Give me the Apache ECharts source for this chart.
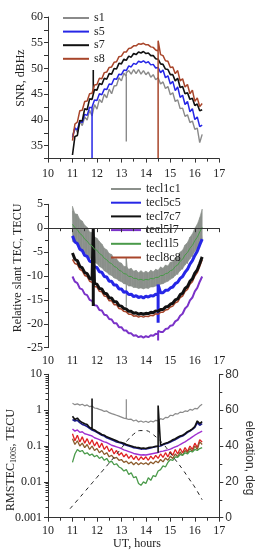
<!DOCTYPE html>
<html><head><meta charset="utf-8">
<script src="https://cdn.jsdelivr.net/npm/echarts@6/dist/echarts.min.js"></script>
<style>html,body{margin:0;padding:0;background:#fff}#c{width:257px;height:550px}</style>
</head><body><div id="c"></div>
<script>
// ---- data ----
const ut = [11.0,11.1,11.2,11.3,11.4,11.5,11.6,11.7,11.8,11.9,12.0,12.1,12.2,12.3,12.4,12.5,12.6,12.7,12.8,12.9,13.0,13.1,13.2,13.3,13.4,13.5,13.6,13.7,13.8,13.9,14.0,14.1,14.2,14.3,14.4,14.5,14.6,14.7,14.8,14.9,15.0,15.1,15.2,15.3,15.4,15.5,15.6,15.7,15.8,15.9,16.0,16.1,16.2,16.3];
const xTicks = [10,11,12,13,14,15,16,17];

// Panel 1: SNR, dBHz
const s1 = [37.0,38.5,37.6,39.7,38.9,40.6,40.0,41.9,40.8,43.0,42.1,44.0,43.4,45.0,44.3,46.0,45.1,46.6,46.7,48.2,47.6,49.1,48.4,49.6,48.9,49.8,49.0,49.8,48.9,49.6,48.8,49.3,48.3,48.8,47.8,48.2,47.0,47.4,46.1,46.5,44.9,45.3,43.6,43.9,42.2,42.3,40.7,41.0,39.5,39.8,38.2,38.4,35.6,37.2];
const s5 = [36.6,38.4,38.1,39.8,39.5,41.1,40.9,42.5,42.3,43.9,43.8,45.1,44.9,46.0,45.9,47.0,46.9,48.0,47.9,48.9,48.8,49.7,49.6,50.5,50.3,51.0,50.8,51.4,51.2,51.5,51.1,51.3,50.7,50.8,50.1,50.2,49.2,49.7,48.2,48.6,47.0,47.5,45.7,46.4,44.4,44.8,43.0,43.6,41.6,42.2,40.1,40.6,38.7,39.0];
const s7 = [33.2,36.8,37.0,39.9,39.8,42.2,42.0,44.1,44.0,45.9,45.8,47.1,46.9,48.1,47.9,49.0,48.9,50.0,49.9,51.0,50.9,51.8,51.6,52.4,52.2,52.9,52.7,53.2,53.0,53.3,52.9,53.0,52.5,52.5,51.9,51.8,50.9,50.8,49.9,49.8,48.8,48.8,47.6,48.1,46.3,46.5,45.1,45.3,44.0,44.2,42.8,43.1,41.8,42.0];
const s8 = [36.0,39.2,39.6,41.8,41.9,43.6,43.7,45.1,45.2,46.8,46.9,48.1,48.0,49.2,49.3,50.2,50.3,51.2,51.3,52.3,52.4,53.2,53.2,53.9,54.0,54.4,54.4,54.8,54.7,54.9,54.6,54.6,54.2,54.1,53.6,53.4,52.7,52.5,51.5,51.4,50.2,50.3,49.0,49.6,47.6,48.0,46.4,46.9,45.1,45.8,43.6,44.3,42.6,43.2];
// spikes: [UT, from, to]
const s1Spikes = [[13.2, 49.2, 35.8]];
const s5Spikes = [[11.8, 42.5, 32.5]];
const s7Spikes = [[11.85, 45.0, 49.7]];
const s8Spikes = [[14.5, 55.4, 32.5]];

// Panel 2: relative slant TEC, TECU
const tecl1c1 = [3.6,-1.8,2.4,-3.4,1.0,-4.2,-0.2,-5.5,-1.5,-6.2,-2.6,-7.0,-3.6,-8.0,-4.9,-8.8,-5.8,-9.3,-6.6,-9.9,-7.4,-10.8,-8.2,-11.4,-8.8,-11.9,-9.1,-12.2,-9.3,-12.4,-9.2,-12.3,-9.1,-12.1,-8.9,-11.8,-8.5,-11.4,-8.0,-11.0,-7.3,-10.4,-6.5,-9.7,-5.4,-8.6,-3.9,-7.4,-2.4,-6.0,-0.6,-4.5,1.6,-2.5];
// noise envelope of tecl1c1 (upper / lower edge of the grey band)
const tecl1c1Hi = [4.6,3.0,2.9,1.8,1.5,0.6,0.2,-0.8,-0.9,-1.8,-2.1,-2.8,-3.3,-4.2,-4.5,-5.3,-5.5,-6.4,-6.4,-7.1,-7.3,-8.0,-8.0,-8.6,-8.4,-9.0,-8.8,-9.3,-8.9,-9.3,-9.0,-9.3,-8.8,-9.1,-8.6,-8.8,-8.1,-8.4,-7.7,-7.9,-7.1,-7.0,-6.2,-6.0,-5.0,-4.6,-3.5,-3.0,-1.9,-1.2,0.0,0.8,2.2,4.0];
const tecl1c1Lo = [-2.8,-2.9,-3.6,-4.0,-4.6,-5.1,-5.7,-6.2,-6.7,-7.1,-7.4,-8.0,-8.3,-8.9,-9.2,-9.7,-9.9,-10.4,-10.6,-11.0,-11.2,-11.6,-11.7,-12.1,-12.1,-12.4,-12.4,-12.6,-12.5,-12.7,-12.5,-12.6,-12.3,-12.3,-12.1,-12.0,-11.7,-11.6,-11.3,-11.1,-10.7,-10.4,-9.9,-9.5,-8.9,-8.4,-7.7,-7.1,-6.4,-5.7,-4.9,-4.1,-3.3,-2.4];
const tecl5c5 = [-1.6,-2.9,-3.2,-4.4,-4.7,-5.7,-5.9,-6.9,-7.1,-8.1,-8.2,-9.1,-9.2,-10.1,-10.2,-11.1,-11.1,-11.9,-11.9,-12.7,-12.7,-13.4,-13.3,-13.9,-13.8,-14.3,-14.1,-14.5,-14.3,-14.6,-14.2,-14.4,-14.1,-14.2,-13.8,-13.9,-13.5,-13.5,-13.0,-13.0,-12.5,-12.3,-11.6,-11.3,-10.5,-10.1,-9.2,-8.6,-7.5,-6.8,-5.7,-4.8,-3.5,-2.3];
const tecl7c7 = [-5.2,-6.5,-6.8,-8.0,-8.3,-9.3,-9.5,-10.5,-10.7,-11.6,-11.7,-12.6,-12.7,-13.6,-13.7,-14.6,-14.6,-15.4,-15.4,-16.2,-16.3,-16.8,-16.9,-17.4,-17.4,-17.8,-17.7,-18.0,-17.8,-18.0,-17.8,-17.9,-17.6,-17.7,-17.3,-17.4,-17.0,-17.0,-16.5,-16.4,-15.9,-15.7,-15.0,-14.8,-13.9,-13.6,-12.6,-12.2,-11.1,-10.6,-9.4,-8.7,-7.4,-6.0];
const tecl5l7 = [-10.1,-11.2,-11.5,-12.6,-12.8,-13.8,-14.0,-15.0,-15.2,-16.1,-16.2,-17.1,-17.2,-18.1,-18.2,-19.0,-19.1,-19.9,-19.9,-20.7,-20.7,-21.4,-21.4,-22.0,-22.0,-22.5,-22.4,-22.8,-22.6,-22.9,-22.6,-22.8,-22.4,-22.5,-22.1,-22.2,-21.7,-21.7,-21.1,-21.0,-20.4,-20.3,-19.5,-19.2,-18.3,-17.9,-16.8,-16.3,-15.1,-14.5,-13.2,-12.5,-11.2,-10.1];
const tecl1l5 = [0.8,0.1,-0.3,-1.1,-1.5,-2.3,-2.7,-3.4,-3.7,-4.4,-4.6,-5.3,-5.6,-6.3,-6.6,-7.2,-7.4,-8.0,-8.2,-8.8,-9.0,-9.5,-9.6,-10.1,-10.1,-10.5,-10.5,-10.8,-10.7,-10.9,-10.7,-10.8,-10.5,-10.6,-10.3,-10.3,-9.9,-9.9,-9.5,-9.4,-8.9,-8.7,-8.0,-7.7,-6.9,-6.5,-5.6,-5.1,-4.2,-3.6,-2.6,-1.9,-0.8,0.2];
const tecl8c8 = [-6.5,-7.4,-7.6,-8.6,-8.9,-9.9,-10.1,-11.1,-11.3,-12.2,-12.3,-13.2,-13.3,-14.2,-14.3,-15.2,-15.2,-16.0,-16.0,-16.8,-16.9,-17.4,-17.5,-18.0,-18.0,-18.4,-18.3,-18.6,-18.4,-18.6,-18.4,-18.5,-18.2,-18.3,-17.9,-18.0,-17.6,-17.6,-17.1,-17.0,-16.5,-16.3,-15.6,-15.4,-14.5,-14.2,-13.2,-12.8,-11.7,-11.2,-10.0,-9.3,-8.0,-6.6];
const tecl1c1Spikes = [[13.2, -6.3, -16.4]];
const tecl5c5Spikes = [[14.5, -11.8, -19.8]];
const tecl7c7Spikes = [[11.85, 0.0, -16.3]];
const tecl5l7Spikes = [[14.5, -21.5, -23.5]];

// Panel 3: RMSTEC100s, TECU and elevation
const rmsGray = [1.55,1.42,1.5,1.38,1.46,1.32,1.4,1.25,1.3,1.15,1.12,1.05,1.0,0.92,0.95,0.85,0.8,0.76,0.72,0.68,0.64,0.6,0.58,0.55,0.56,0.5,0.53,0.47,0.5,0.46,0.49,0.45,0.5,0.47,0.52,0.5,0.58,0.55,0.63,0.62,0.72,0.7,0.8,0.78,0.88,0.86,0.95,0.92,1.05,1.0,1.12,1.08,1.3,1.45];
const rmsBlack = [0.68,0.55,0.6,0.5,0.45,0.42,0.4,0.33,0.3,0.28,0.25,0.23,0.21,0.2,0.18,0.17,0.16,0.15,0.14,0.13,0.125,0.12,0.11,0.105,0.1,0.095,0.092,0.09,0.086,0.088,0.085,0.09,0.092,0.094,0.098,0.1,0.105,0.112,0.12,0.125,0.135,0.15,0.16,0.175,0.19,0.2,0.22,0.25,0.27,0.3,0.35,0.5,0.42,0.48];
const rmsBlue = [0.55,0.5,0.52,0.45,0.4,0.38,0.35,0.31,0.28,0.26,0.24,0.22,0.2,0.19,0.17,0.16,0.15,0.14,0.13,0.125,0.12,0.11,0.105,0.1,0.095,0.09,0.088,0.085,0.082,0.084,0.083,0.086,0.088,0.092,0.095,0.098,0.1,0.108,0.115,0.12,0.13,0.14,0.15,0.165,0.18,0.19,0.21,0.24,0.26,0.29,0.33,0.45,0.38,0.42];
const rmsPurple = [0.3,0.26,0.28,0.24,0.25,0.22,0.21,0.2,0.19,0.17,0.16,0.15,0.14,0.13,0.125,0.115,0.105,0.1,0.095,0.09,0.085,0.078,0.074,0.07,0.066,0.062,0.06,0.058,0.056,0.057,0.056,0.058,0.06,0.062,0.064,0.066,0.07,0.072,0.075,0.078,0.082,0.088,0.095,0.1,0.11,0.12,0.13,0.145,0.16,0.18,0.2,0.22,0.24,0.26];
const rmsRed = [0.22,0.14,0.2,0.13,0.18,0.12,0.16,0.11,0.15,0.1,0.13,0.09,0.12,0.08,0.1,0.07,0.085,0.06,0.075,0.055,0.065,0.05,0.06,0.045,0.055,0.042,0.052,0.04,0.05,0.042,0.05,0.04,0.052,0.043,0.055,0.045,0.06,0.048,0.065,0.05,0.07,0.055,0.08,0.06,0.085,0.065,0.09,0.07,0.1,0.08,0.12,0.09,0.15,0.13];
const rmsBrown = [0.16,0.11,0.14,0.1,0.12,0.09,0.11,0.08,0.1,0.075,0.085,0.065,0.075,0.058,0.065,0.05,0.055,0.045,0.048,0.04,0.042,0.035,0.038,0.032,0.036,0.03,0.035,0.03,0.034,0.031,0.034,0.03,0.036,0.032,0.038,0.034,0.042,0.036,0.046,0.04,0.052,0.045,0.06,0.05,0.068,0.055,0.075,0.065,0.085,0.07,0.1,0.08,0.13,0.11];
const rmsGreen = [0.035,0.06,0.08,0.07,0.075,0.06,0.065,0.055,0.06,0.05,0.055,0.045,0.05,0.04,0.045,0.035,0.038,0.03,0.032,0.026,0.024,0.02,0.022,0.016,0.018,0.013,0.014,0.009,0.008,0.01,0.009,0.013,0.011,0.015,0.014,0.02,0.022,0.028,0.026,0.035,0.042,0.04,0.05,0.048,0.058,0.055,0.065,0.06,0.072,0.068,0.08,0.075,0.085,0.09];
const rmsGraySpikes = [[13.2, 0.58, 2.0]];
const rmsBlackSpikes = [[11.8, 0.3, 2.1], [14.5, 1.35, 0.065]];
const elevUT = [10.9,11.25,11.5,11.75,12.0,12.25,12.5,12.75,13.0,13.25,13.5,13.75,14.0,14.25,14.5,14.75,15.0,15.25,15.5,15.75,16.0,16.3];
const elevDeg = [5,10.5,14.5,18.5,22.5,26.5,30.5,34.5,38.8,43.2,46.6,48.6,48.6,46.8,44.0,40.5,36,31.5,27,22,17,10];

const snrTicks = [35,40,45,50,55,60];
const logMajor = [0.001,0.01,0.1,1,10];
const logMinor = [0.002,0.003,0.004,0.005,0.006,0.007,0.008,0.009,0.02,0.03,0.04,0.05,0.06,0.07,0.08,0.09,0.2,0.3,0.4,0.5,0.6,0.7,0.8,0.9,2,3,4,5,6,7,8,9];
const logLabels = {0.001:'0.001',0.01:'0.01',0.1:'0.1',1:'1',10:'10'};

// ---- build ----
function pts(vals, spikes) {
  const out = [];
  for (let i = 0; i < ut.length; i++) {
    out.push([ut[i], vals[i]]);
    (spikes || []).forEach(s => {
      const next = i + 1 < ut.length ? ut[i + 1] : Infinity;
      if (s[0] >= ut[i] - 1e-9 && s[0] < next - 1e-9) {
        out.push([s[0], s[1]], [s[0], s[2]], [s[0], s[1]]);
      }
    });
  }
  return out;
}

const serif = 'Liberation Serif';
const sans = 'Liberation Sans';
const axisCol = '#333';

function xAx(grid, margin) {
  return {
    type: 'value', gridIndex: grid, min: 10, max: 17, interval: 1, z: 10,
    axisLine: {show: true, lineStyle: {color: axisCol, width: 1}},
    axisTick: {show: true, length: 4, lineStyle: {color: axisCol}},
    minorTick: {show: true, splitNumber: 2, length: 3, lineStyle: {color: axisCol}},
    splitLine: {show: false},
    axisLabel: {fontFamily: serif, fontSize: 12, color: '#222', margin: margin,
      customValues: xTicks}
  };
}

function line(name, data, color, width, xi, yi, z, extra) {
  return Object.assign({
    name: name, type: 'line', data: data, xAxisIndex: xi, yAxisIndex: yi,
    showSymbol: false, symbol: 'none', animation: false, z: z || 2,
    lineStyle: {color: color, width: width}, itemStyle: {color: color},
    emphasis: {disabled: true}
  }, extra || {});
}

const cGray = '#8a8a8a', cBlue = '#2626e6', cBlack = '#111111', cBrown = '#a8452a';
const cPurple = '#7a32c8', cGreen = '#4a9a4a', cRed = '#e02222', cBrown3 = '#8b5a2b', cNavy = '#1c1c8a', cMag = '#a030d0';
const cBand = '#8b908b';

const legendCommon = {
  orient: 'vertical', selectedMode: false, itemHeight: 12,
  itemStyle: {opacity: 0, borderWidth: 0},
  textStyle: {fontFamily: serif, fontSize: 12, color: '#222', lineHeight: 12}
};

// grey band between the lower and upper noise envelope, drawn segment by segment
const bandSeries = {
  name: 'tecl1c1 band', type: 'custom', xAxisIndex: 1, yAxisIndex: 1, z: 1, animation: false,
  data: ut.map((t, i) => [t, tecl1c1Lo[i], tecl1c1Hi[i]]),
  encode: {x: 0, y: [1, 2]},
  silent: true,
  renderItem: function (params, api) {
    const i = params.dataIndexInside;
    if (i >= params.dataInsideLength - 1) return;
    const a = api.coord([api.value(0, i), api.value(1, i)]);
    const b = api.coord([api.value(0, i), api.value(2, i)]);
    const c = api.coord([api.value(0, i + 1), api.value(2, i + 1)]);
    const d = api.coord([api.value(0, i + 1), api.value(1, i + 1)]);
    return {type: 'polygon', shape: {points: [a, b, c, d]},
      style: {fill: cBand, stroke: cBand, lineWidth: 0.6}};
  }
};

const option = {
  backgroundColor: '#fff',
  animation: false,
  grid: [
    {left: 48, top: 17, width: 171.3, height: 141.6},
    {left: 48, top: 204.3, width: 171.3, height: 143.4},
    {left: 48, top: 374.3, width: 171.3, height: 143.4}
  ],
  xAxis: [xAx(0, 9), xAx(1, 7), xAx(2, 7)],
  yAxis: [
    {type: 'value', gridIndex: 0, min: 32.5, max: 60, interval: 2.5, z: 10,
     axisLine: {show: true, lineStyle: {color: axisCol}},
     axisTick: {show: true, length: 4, lineStyle: {color: axisCol}},
     splitLine: {show: false},
     axisLabel: {fontFamily: serif, fontSize: 12, color: '#222', margin: 5, customValues: snrTicks}},
    {type: 'value', gridIndex: 1, min: -25, max: 5, interval: 5, z: 10,
     axisLine: {show: true, lineStyle: {color: axisCol}},
     axisTick: {show: true, length: 4, lineStyle: {color: axisCol}},
     minorTick: {show: true, splitNumber: 2, length: 3, lineStyle: {color: axisCol}},
     splitLine: {show: false},
     axisLabel: {fontFamily: serif, fontSize: 12, color: '#222', margin: 5}},
    {type: 'log', gridIndex: 2, min: 0.001, max: 10, logBase: 10, z: 10,
     axisLine: {show: true, lineStyle: {color: axisCol}},
     axisTick: {show: true, length: 4, lineStyle: {color: axisCol}, customValues: logMajor},
     splitLine: {show: false},
     axisLabel: {fontFamily: serif, fontSize: 12, color: '#222', margin: 6, customValues: logMajor,
       formatter: v => logLabels[v] !== undefined ? logLabels[v] : String(v)}},
    {type: 'log', gridIndex: 2, min: 0.001, max: 10, logBase: 10, position: 'left', offset: 0, z: 10,
     axisLine: {show: false},
     axisTick: {show: true, length: 2.5, lineStyle: {color: axisCol}, customValues: logMinor},
     splitLine: {show: false},
     axisLabel: {show: false}},
    {type: 'value', gridIndex: 2, min: 0, max: 80, interval: 20, position: 'right', z: 10,
     axisLine: {show: true, lineStyle: {color: axisCol}},
     axisTick: {show: true, length: 4, lineStyle: {color: axisCol}},
     minorTick: {show: true, splitNumber: 2, length: 3, lineStyle: {color: axisCol}},
     splitLine: {show: false},
     axisLabel: {fontFamily: sans, fontSize: 12, color: '#333', margin: 6}}
  ],
  legend: [
    Object.assign({}, legendCommon, {data: ['s1', 's5', 's7', 's8'], left: 57, top: 7,
     itemWidth: 26, itemGap: 1.6}),
    Object.assign({}, legendCommon, {data: ['tecl1c1', 'tecl5c5', 'tecl7c7', 'tecl5l7', 'tecl1l5', 'tecl8c8'],
     left: 105, top: 178, itemWidth: 30, itemGap: 1.7})
  ],
  series: [
    // panel 1
    line('s1', pts(s1, s1Spikes), cGray, 1.4, 0, 0, 2),
    line('s5', pts(s5, s5Spikes), cBlue, 1.5, 0, 0, 3),
    line('s7', pts(s7, s7Spikes), cBlack, 1.6, 0, 0, 4),
    line('s8', pts(s8, s8Spikes), cBrown, 1.5, 0, 0, 5),
    // panel 2
    bandSeries,
    line('tecl1c1', pts(tecl1c1, tecl1c1Spikes), cBand, 0.8, 1, 1, 2),
    line('tecl5c5', pts(tecl5c5, tecl5c5Spikes), cBlue, 3, 1, 1, 3),
    line('tecl8c8', pts(tecl8c8), cBrown, 1.5, 1, 1, 3),
    line('tecl7c7', pts(tecl7c7, tecl7c7Spikes), cBlack, 3, 1, 1, 4),
    line('tecl5l7', pts(tecl5l7, tecl5l7Spikes), cPurple, 2, 1, 1, 3),
    line('tecl1l5', pts(tecl1l5), cGreen, 1, 1, 1, 5),
    // panel 3
    line('rms gray', pts(rmsGray, rmsGraySpikes), cGray, 1.2, 2, 2, 2),
    line('rms blue', pts(rmsBlue), cNavy, 1.6, 2, 2, 3),
    line('rms black', pts(rmsBlack, rmsBlackSpikes), cBlack, 1.6, 2, 2, 4),
    line('rms purple', pts(rmsPurple), cMag, 1.4, 2, 2, 3),
    line('rms red', pts(rmsRed), cRed, 1.3, 2, 2, 3),
    line('rms brown', pts(rmsBrown), cBrown3, 1.3, 2, 2, 3),
    line('rms green', pts(rmsGreen), cGreen, 1.3, 2, 2, 3),
    line('elevation', elevUT.map((t, i) => [t, elevDeg[i]]), '#222', 1, 2, 4, 6,
      {smooth: 0.4, lineStyle: {color: '#222', width: 1, type: [4, 4]}})
  ],
  graphic: [
    {type: 'text', x: 21, y: 78, rotation: Math.PI / 2,
     style: {text: 'SNR, dBHz', font: '12px "Liberation Serif"', fill: '#222', align: 'center', verticalAlign: 'middle'}},
    {type: 'text', x: 18, y: 268, rotation: Math.PI / 2,
     style: {text: 'Relative slant TEC, TECU', font: '12px "Liberation Serif"', fill: '#222', align: 'center', verticalAlign: 'middle'}},
    {type: 'text', x: 11, y: 460, rotation: Math.PI / 2,
     style: {text: 'RMSTEC{s|100S}, TECU', font: '12px "Liberation Serif"', fill: '#222', align: 'center', verticalAlign: 'middle',
       rich: {s: {fontSize: 8, fontFamily: serif, fill: '#222', padding: [5, 0, 0, 0]}}}},
    {type: 'text', x: 249, y: 458, rotation: -Math.PI / 2,
     style: {text: 'elevation, deg', font: '12px "Liberation Sans"', fill: '#333', align: 'center', verticalAlign: 'middle'}},
    {type: 'text', x: 137, y: 544,
     style: {text: 'UT, hours', font: '12px "Liberation Serif"', fill: '#222', align: 'center', verticalAlign: 'middle'}}
  ]
};

const chart = echarts.init(document.getElementById('c'), null, {renderer: 'canvas'});
chart.setOption(option);
</script>
</body></html>
